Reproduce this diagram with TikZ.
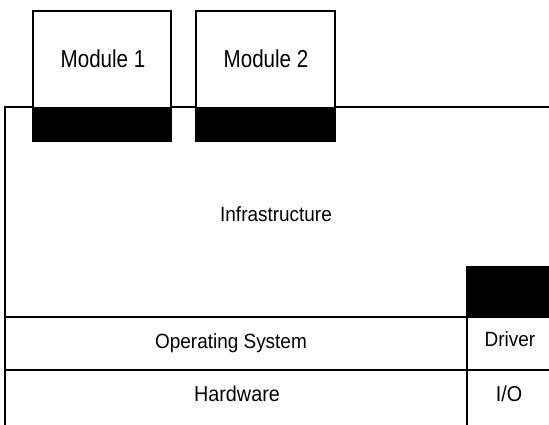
\documentclass[tikz,border=0pt]{standalone}
\usepackage{fontspec}
\setmainfont{Liberation Sans}
\newfontfamily\modfont[FakeStretch=0.84]{Liberation Sans}
\newfontfamily\lblfont[FakeStretch=0.92]{Liberation Sans}
\begin{document}
\begin{tikzpicture}[x=1pt,y=-1pt,line width=1.8pt,
  lbl/.style={font=\lblfont\fontsize{20.6}{24}\selectfont, inner sep=0, anchor=base},
  biglbl/.style={font=\lblfont\fontsize{21.5}{24}\selectfont, inner sep=0, anchor=base},
  modlbl/.style={font=\modfont\fontsize{24.5}{28}\selectfont, inner sep=0, anchor=base},
  band/.style={fill=black}]
\useasboundingbox (0,0) rectangle (549,425);
% infrastructure frame
\draw (549,107) -- (5,107) -- (5,425);
\draw (5,317) -- (549,317);
\draw (5,370) -- (549,370);
\draw (467,266) -- (467,425);
\fill[band] (467,266) rectangle (549,317);
% modules
\draw[fill=white] (33,11) rectangle (171,141);
\fill[band] (33,107) rectangle (171,141);
\draw[fill=white] (196,11) rectangle (335,141);
\fill[band] (196,107) rectangle (335,141);
\node[modlbl] (m1) at (103,68) {Module 1};
\node[modlbl] (m2) at (266,68) {Module 2};
\node[lbl] (infra) at (276,221) {Infrastructure};
\node[lbl] (os) at (231,348) {Operating System};
\node[biglbl] (hw) at (237,401) {Hardware};
\node[lbl] (drv) at (510,346) {Driver};
\node[biglbl] (io) at (509,401) {I/O};
\end{tikzpicture}
\end{document}
